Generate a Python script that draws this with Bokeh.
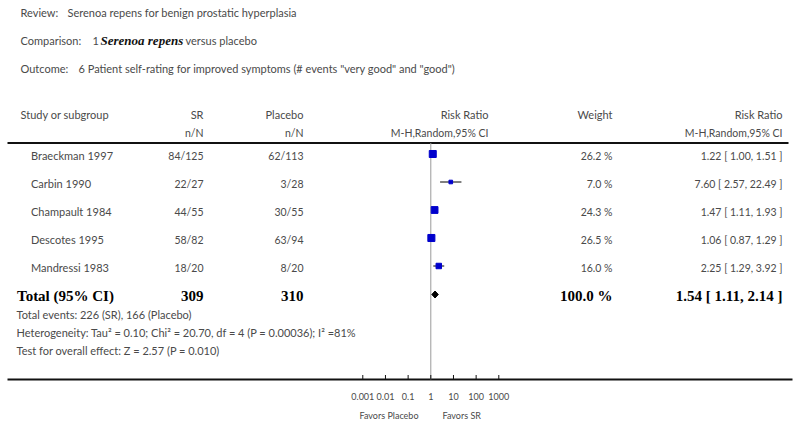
import math
from bokeh.plotting import figure
from bokeh.models import Range1d, LogScale, ColumnDataSource
from bokeh.core.properties import value
from bokeh.embed import file_html
from bokeh.resources import INLINE

# ---------------- data ----------------
review = "Serenoa repens for benign prostatic hyperplasia"
comparison_no = "1"
comparison_drug = "Serenoa repens"
comparison_rest = "versus placebo"
outcome = '6 Patient self-rating for improved symptoms (# events "very good" and "good")'

studies = ["Braeckman 1997", "Carbin 1990", "Champault 1984", "Descotes 1995", "Mandressi 1983"]
sr_events = [84, 22, 44, 58, 18]
sr_total = [125, 27, 55, 82, 20]
pl_events = [62, 3, 30, 63, 8]
pl_total = [113, 28, 55, 94, 20]
weights = [26.2, 7.0, 24.3, 26.5, 16.0]
rr = [1.22, 7.60, 1.47, 1.06, 2.25]
rr_lo = [1.00, 2.57, 1.11, 0.87, 1.29]
rr_hi = [1.51, 22.49, 1.93, 1.29, 3.92]

total_sr = 309
total_pl = 310
total_weight = 100.0
total_rr = 1.54
total_lo = 1.11
total_hi = 2.14
events_sr = 226
events_pl = 166
tau2 = 0.10
chi2 = 20.70
df = 4
p_het = "0.00036"
i2 = 81
z_val = 2.57
p_z = "0.010"

null_rr = 1
ticks = [0.001, 0.01, 0.1, 1, 10, 100, 1000]
tick_labels = ["0.001", "0.01", "0.1", "1", "10", "100", "1000"]

# ---------------- layout ----------------
W, H = 796, 421
OX, OY = 0, 0


def X(px):
    return px - OX


def Y(py):
    return py - OY


PX_ONE = 430.3   # screen x of RR = 1
PX_DEC = 22.67   # pixels per decade
rr_start = 10 ** ((OX - PX_ONE) / PX_DEC)
rr_end = 10 ** ((OX + W - PX_ONE) / PX_DEC)

GRAY = "#4a4a4a"
SANS = "Lato"
SERIF = "Liberation Serif"
FS = "11px"
FS_NUM = "10.5px"

p = figure(width=W, height=H, output_backend="svg", toolbar_location=None,
           x_range=Range1d(0, W), y_range=Range1d(H, 0),
           x_axis_location=None, y_axis_location=None, min_border=0,
           outline_line_color=None, background_fill_color="white",
           border_fill_color="white")
p.extra_x_ranges = {"rr": Range1d(rr_start, rr_end)}
p.extra_x_scales = {"rr": LogScale()}
p.grid.grid_line_color = None


def txt(x, y, s, align="left", size=FS, font=SANS, color=GRAY, style="normal"):
    p.text(x=[X(x)], y=[Y(y)], text=[s], text_align=align, text_baseline="middle",
           text_font=value(font), text_font_size=size, text_color=color,
           text_font_style=style)


# titles
txt(20, 12, "Review:")
txt(67, 12, review)
txt(20, 40, "Comparison:")
txt(92, 40, comparison_no)
txt(100, 39.5, comparison_drug, size="13px", font=SERIF, color="#111111", style="bold italic")
txt(185, 40, comparison_rest)
txt(20, 68, "Outcome:")
txt(78, 68, outcome)

# column headers
COL_SR, COL_PL, COL_RR, COL_W, COL_CI = 203, 303, 488, 612, 782
txt(20, 113.5, "Study or subgroup")
txt(COL_SR, 113.5, "SR", align="right")
txt(COL_PL, 113.5, "Placebo", align="right")
txt(COL_RR, 113.5, "Risk Ratio", align="right")
txt(COL_W, 113.5, "Weight", align="right")
txt(COL_CI, 113.5, "Risk Ratio", align="right")
txt(COL_SR, 132, "n/N", align="right", size=FS_NUM)
txt(COL_PL, 132, "n/N", align="right", size=FS_NUM)
txt(COL_RR, 132, "M-H,Random,95% CI", align="right", size=FS_NUM)
txt(COL_CI, 132, "M-H,Random,95% CI", align="right", size=FS_NUM)

# header rule and bottom axis rule
p.segment(x0=[X(7)], x1=[X(788)], y0=[Y(142.5)], y1=[Y(142.5)], line_color="#111111", line_width=2)
p.segment(x0=[X(7)], x1=[X(792)], y0=[Y(379)], y1=[Y(379)], line_color="#111111", line_width=2)

# study rows
ROW0, STEP = 153.5, 28.0
row_y = [Y(ROW0 + STEP * i) for i in range(len(studies))]
text_y = [y + 1.5 for y in row_y]
src = ColumnDataSource(dict(
    study=studies,
    sr=[f"{e}/{n}" for e, n in zip(sr_events, sr_total)],
    pl=[f"{e}/{n}" for e, n in zip(pl_events, pl_total)],
    w=[f"{w:.1f} %" for w in weights],
    ci=[f"{r:.2f} [ {l:.2f}, {h:.2f} ]" for r, l, h in zip(rr, rr_lo, rr_hi)],
    rr=rr, lo=rr_lo, hi=rr_hi,
    y=row_y, ty=text_y,
    xs=[X(30.5)] * len(studies), xsr=[X(COL_SR)] * len(studies),
    xpl=[X(COL_PL)] * len(studies), xw=[X(COL_W)] * len(studies),
    xci=[X(COL_CI)] * len(studies),
    size=[1.37 * math.sqrt(w) for w in weights],
))
common = dict(source=src, text_baseline="middle", text_font=value(SANS), text_color=GRAY)
p.text(x="xs", y="ty", text="study", text_align="left", text_font_size=FS, **common)
p.text(x="xsr", y="ty", text="sr", text_align="right", text_font_size=FS_NUM, **common)
p.text(x="xpl", y="ty", text="pl", text_align="right", text_font_size=FS_NUM, **common)
p.text(x="xw", y="ty", text="w", text_align="right", text_font_size=FS_NUM, **common)
p.text(x="xci", y="ty", text="ci", text_align="right", text_font_size=FS_NUM, **common)

# null line
p.segment(x0=[null_rr], x1=[null_rr], y0=[Y(142.5)], y1=[Y(379)], x_range_name="rr",
          line_color="#9a9a9a", line_width=1)

# CIs and squares
p.segment(x0="lo", x1="hi", y0="y", y1="y", source=src, x_range_name="rr",
          line_color="black", line_width=1)
p.scatter(x="rr", y="y", size="size", source=src, marker="square", x_range_name="rr",
          fill_color="#0000cc", line_color="#0000cc")

# total row
TY = 294
p.patch(x=[total_lo, total_rr, total_hi, total_rr],
        y=[Y(TY), Y(TY) - 3.5, Y(TY), Y(TY) + 3.5],
        x_range_name="rr", fill_color="black", line_color="black")
txt(16.5, TY + 1, "Total (95% CI)", size="15px", font=SERIF, color="black", style="bold")
txt(COL_SR, TY + 1, f"{total_sr}", align="right", size="15px", font=SERIF, color="black", style="bold")
txt(COL_PL, TY + 1, f"{total_pl}", align="right", size="15px", font=SERIF, color="black", style="bold")
txt(COL_W, TY + 1, f"{total_weight:.1f} %", align="right", size="15px", font=SERIF, color="black", style="bold")
txt(COL_CI, TY + 1, f"{total_rr:.2f} [ {total_lo:.2f}, {total_hi:.2f} ]", align="right",
    size="15px", font=SERIF, color="black", style="bold")

# footer notes
txt(16, 313.5, f"Total events: {events_sr} (SR), {events_pl} (Placebo)")
txt(16, 332, f"Heterogeneity: Tau\u00b2 = {tau2:.2f}; Chi\u00b2 = {chi2:.2f}, df = {df} (P = {p_het}); I\u00b2 ={i2}%")
txt(16, 350, f"Test for overall effect: Z = {z_val:.2f} (P = {p_z})")

# axis ticks and labels
p.segment(x0=ticks, x1=ticks, y0=[Y(374.5)] * len(ticks), y1=[Y(379)] * len(ticks),
          x_range_name="rr", line_color="#111111", line_width=1)
p.text(x=ticks, y=[Y(396)] * len(ticks), text=tick_labels, x_range_name="rr",
       text_align="center", text_baseline="middle", text_font=value(SANS),
       text_font_size="9px", text_color=GRAY)
txt(418, 415, "Favors Placebo", align="right", size="9px")
txt(442, 415, "Favors SR", align="left", size="9px")

open("out.html", "w").write(file_html(p, INLINE))
